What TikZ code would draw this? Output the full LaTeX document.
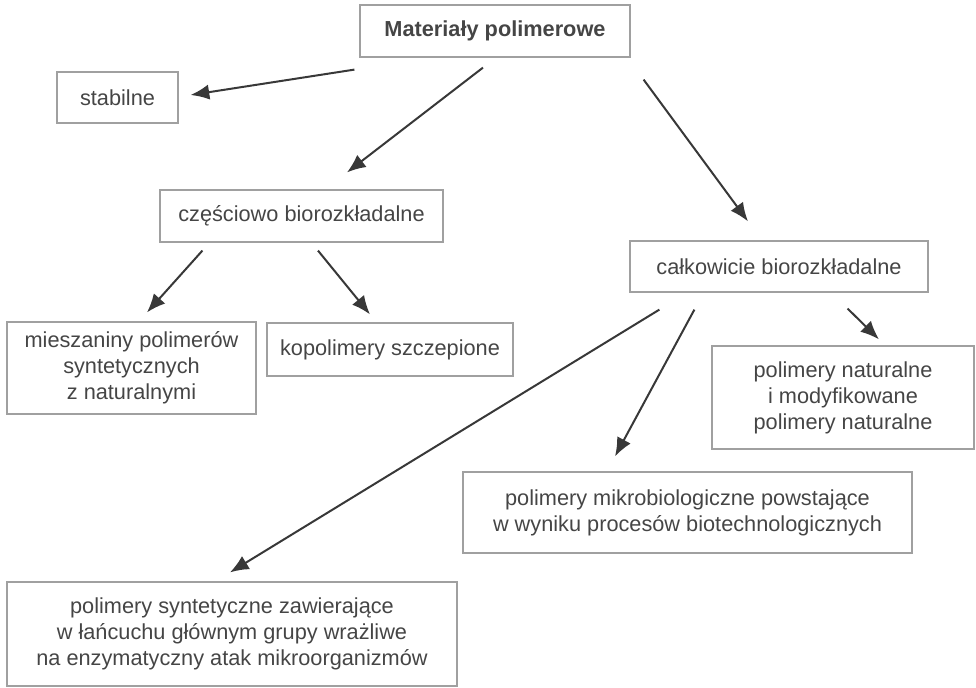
\documentclass[tikz,border=0pt]{standalone}
\usepackage{fontspec}
\setmainfont{Liberation Sans}
\usepackage{xcolor}
\usepackage{tikz}
\usetikzlibrary{arrows.meta,positioning,calc}
\definecolor{boxline}{HTML}{A0A0A0}
\definecolor{txtgray}{HTML}{454545}
\definecolor{arrgray}{HTML}{383838}
\tikzstyle{block} = [rectangle, draw=boxline, line width=0.9pt, text=txtgray, align=center, inner sep=0pt, font=\fontsize{16.3}{19.5}\selectfont]
\tikzset{edge/.style = {
    draw=arrgray, line width=1.5pt,
    -{Latex[length=14pt,width=11.5pt]},
  }
}

\begin{document}
\begin{tikzpicture}[x=0.75pt, y=-0.75pt]
            \useasboundingbox (0,0) rectangle (976,687);
            % vertices
            \node[block, minimum width=202.5pt, minimum height=39pt] (top) at (495,31) {\bfseries Materiały polimerowe};
            \node[block, minimum width=90.75pt, minimum height=38.25pt] (stab) at (117.5,97.5) {stabilne};
            \node[block, minimum width=212.25pt, minimum height=39pt] (czesc) at (301.5,216) {częściowo biorozkładalne};
            \node[block, minimum width=223.5pt, minimum height=38.25pt] (calk) at (779,266.5) {całkowicie biorozkładalne};
            \node[block, minimum width=186.75pt, minimum height=69pt] (mies) at (131.5,368) {mieszaniny polimerów\\syntetycznych\\z naturalnymi};
            \node[block, minimum width=184.5pt, minimum height=39.75pt] (kopo) at (390,349.5) {kopolimery szczepione};
            \node[block, minimum width=196.5pt, minimum height=77.25pt] (nat) at (843,397.5) {polimery naturalne\\i modyfikowane\\polimery naturalne};
            \node[block, minimum width=336.75pt, minimum height=60.75pt] (mikro) at (687.5,512.5) {polimery mikrobiologiczne powstające\\w wyniku procesów biotechnologicznych};
            \node[block, minimum width=337.5pt, minimum height=78pt] (synt) at (232,634) {polimery syntetyczne zawierające\\w łańcuchu głównym grupy wrażliwe\\na enzymatyczny atak mikroorganizmów};

            %edges
            \draw[edge] ([shift={(-5,12)}]top.south west) -- ([shift={(12,-2.5)}]stab.east);
            \draw[edge] ([shift={(-12,10)}]top.south) -- ([shift={(45.5,-17)}]czesc.north);
            \draw[edge] ([shift={(13,22)}]top.south east) -- ([shift={(-31,-19)}]calk.north);
            \draw[edge] ([shift={(43,8)}]czesc.south west) -- ([shift={(15.5,-9)}]mies.north);
            \draw[edge] ([shift={(16.5,8)}]czesc.south) -- ([shift={(-20,-8)}]kopo.north);
            \draw[edge] ([shift={(30,17)}]calk.south west) -- ([shift={(-2,-9)}]synt.north);
            \draw[edge] ([shift={(65,17)}]calk.south west) -- ([shift={(-72.5,-15)}]mikro.north);
            \draw[edge] ([shift={(-81,16)}]calk.south east) -- ([shift={(36,-6)}]nat.north);

\end{tikzpicture}
\end{document}
